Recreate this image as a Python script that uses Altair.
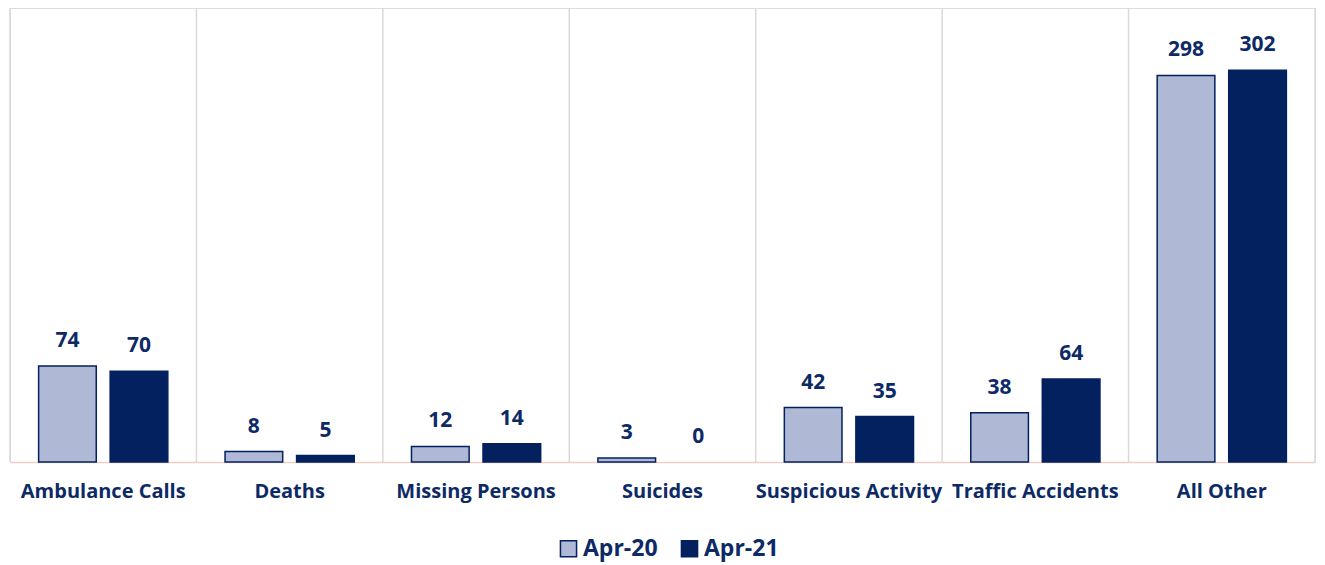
import altair as alt
import pandas as pd

categories = ["Ambulance Calls", "Deaths", "Missing Persons", "Suicides",
              "Suspicious Activity", "Traffic Accidents", "All Other"]
apr20 = [74, 8, 12, 3, 42, 38, 298]
apr21 = [70, 5, 14, 0, 35, 64, 302]
series = ["Apr-20", "Apr-21"]

rows = []
for c, a, b in zip(categories, apr20, apr21):
    rows.append({"cat": c, "series": series[0], "value": a})
    rows.append({"cat": c, "series": series[1], "value": b})
df = pd.DataFrame(rows)
grid_df = pd.DataFrame({"cat": categories})
last_df = pd.DataFrame({"cat": [categories[-1]]})

NAVY = "#03215E"
LIGHT = "#AFB8D4"
TXT = "#0D2A66"
FONT = "Open Sans"

xscale = alt.Scale(domain=categories, paddingInner=0, paddingOuter=0)
yscale = alt.Scale(domain=[0, 350], nice=False)

xaxis = alt.Axis(title=None, ticks=False, domain=True, domainColor="#F0CFC8",
                 domainWidth=1.5, labelFont=FONT, labelFontSize=20,
                 labelFontWeight="bold", labelColor=TXT, labelPadding=19,
                 labelAngle=0, grid=False, labelLimit=400, labelOverlap=False)

grid = alt.Chart(grid_df).mark_rule(color="#D9D9D9", strokeWidth=1.5).encode(
    x=alt.X("cat:N", scale=xscale, bandPosition=0, axis=xaxis, sort=categories),
)
grid_last = alt.Chart(last_df).mark_rule(color="#D9D9D9", strokeWidth=1.5).encode(
    x=alt.X("cat:N", scale=xscale, bandPosition=1, sort=categories),
)

color = alt.Color("series:N", scale=alt.Scale(domain=series, range=[LIGHT, NAVY]),
                  legend=alt.Legend(title=None, orient="none", legendX=547, legendY=529,
                                    direction="horizontal", symbolType="square",
                                    symbolSize=260, symbolStrokeColor=NAVY,
                                    symbolStrokeWidth=1.5, labelFont=FONT,
                                    labelFontSize=23, labelFontWeight="bold",
                                    labelColor=TXT, columnPadding=20, labelOffset=3))

xoff = alt.XOffset("series:N", scale=alt.Scale(domain=series, paddingInner=0.194,
                                               paddingOuter=0.4))

bars = alt.Chart(df).mark_bar(stroke=NAVY, strokeWidth=1.5).encode(
    x=alt.X("cat:N", scale=xscale, sort=categories),
    xOffset=xoff,
    y=alt.Y("value:Q", scale=yscale, axis=None),
    color=color,
    strokeOpacity=alt.condition(alt.datum.value == 0, alt.value(0), alt.value(1)),
)

labels = alt.Chart(df).mark_text(font=FONT, fontSize=21, fontWeight="bold",
                                 color=TXT, baseline="middle", dy=-25).encode(
    x=alt.X("cat:N", scale=xscale, sort=categories),
    xOffset=xoff,
    y=alt.Y("value:Q", scale=yscale),
    text=alt.Text("value:Q"),
)

chart = alt.layer(grid, grid_last, bars, labels).properties(
    width=1305, height=454,
    autosize=alt.AutoSizeParams(type="none"),
    padding={"left": 2, "top": 0, "right": 2, "bottom": 105},
).configure_view(stroke=None).configure(background="white")

chart.save("out.html", embed_options={"renderer": "svg", "actions": False})
